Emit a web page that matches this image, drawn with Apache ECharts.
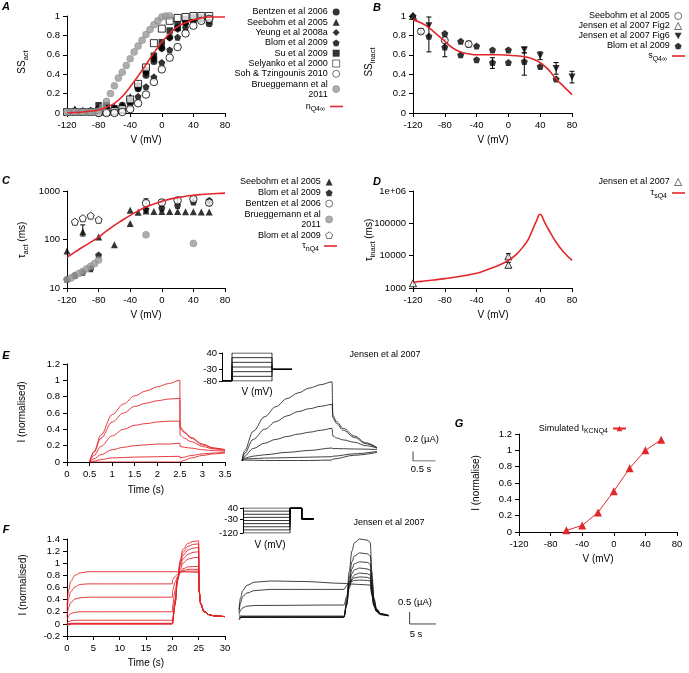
<!DOCTYPE html>
<html><head><meta charset="utf-8">
<script src="https://cdn.jsdelivr.net/npm/echarts@6/dist/echarts.min.js"></script>
<style>html,body{margin:0;padding:0;background:#fff}#c{width:689px;height:673px}</style>
</head><body><div id="c"></div>
<script>
const FONT = '"Liberation Sans", Arial, Helvetica, sans-serif';
const RED = '#e3262b';
const GRAY = '#9a9a9a';
const PENT = 'path://M0,-10 L9.5,-3.1 L5.9,8.1 L-5.9,8.1 L-9.5,-3.1 Z';
const DOWNTRI = 'path://M-10,-9 L10,-9 L0,9 Z';

// ---------- Panel A : steady-state activation ----------
const A_bentzen = [[-90,0.02],[-80,0.04],[-70,0.05],[-60,0.04],[-50,0.08],[-40,0.14],[-30,0.25],[-20,0.39],[-10,0.53],[0,0.67],[10,0.78],[20,0.88],[30,0.93],[40,0.96],[50,0.97],[60,0.92]];
const A_seebohm = [[-110,0.04],[-100,0.03],[-90,0.03],[-80,0.04],[-70,0.05],[-60,0.06],[-50,0.08],[-40,0.17],[-30,0.3],[-20,0.45],[-10,0.6],[0,0.7],[10,0.8],[20,0.88],[30,0.94],[40,0.97],[50,0.98],[60,0.98]];
const A_yeung = [[-120,0.02],[-110,0.03],[-100,0.02],[-90,0.02],[-80,0.03],[-70,0.04],[-60,0.05],[-50,0.07],[-40,0.13],[-30,0.25],[-20,0.41],[-10,0.55],[0,0.66],[10,0.77],[20,0.86],[30,0.92],[40,0.97],[50,0.98],[60,0.95]];
const A_blom = [[-80,0.0],[-70,0.01],[-60,0.01],[-50,0.03],[-40,0.09],[-30,0.17],[-20,0.27],[-10,0.37],[0,0.52],[10,0.65],[20,0.78],[30,0.88],[40,0.96],[50,0.97],[60,0.96]];
const A_su = [[-80,0.08],[-70,0.08],[-60,0.05],[-50,0.05],[-40,0.12],[-30,0.28],[-20,0.44],[-10,0.59],[0,0.73],[10,0.85],[20,0.92],[30,0.97],[40,0.99],[50,0.99],[60,0.98]];
const A_selyanko = [[-120,0.01],[-110,0.01],[-100,0.01],[-90,0.01],[-80,0.01],[-70,0.01],[-60,0.02],[-50,0.04],[-40,0.14],[-30,0.3],[-20,0.47],[-10,0.72],[0,0.87],[10,0.95],[20,0.98],[30,0.99],[40,1.0],[50,1.0],[60,1.0]];
const A_soh = [[-80,0.0],[-70,0.0],[-60,0.0],[-50,0.01],[-40,0.04],[-30,0.1],[-20,0.19],[-10,0.32],[0,0.45],[10,0.57],[20,0.68],[30,0.82],[40,0.9],[50,0.95],[60,0.97]];
const A_brueg = [[-120,0.01],[-115,0.01],[-110,0.01],[-105,0.01],[-100,0.01],[-95,0.01],[-90,0.01],[-85,0.01],[-80,0.02],[-75,0.06],[-70,0.12],[-65,0.2],[-60,0.28],[-55,0.36],[-50,0.42],[-45,0.49],[-40,0.56],[-35,0.63],[-30,0.69],[-25,0.75],[-20,0.81],[-15,0.86],[-10,0.91],[-5,0.95],[0,0.99],[5,1.0],[10,1.0]];
const A_nQ4 = [[-120,0.0],[-110,0.005],[-100,0.01],[-90,0.02],[-80,0.03],[-70,0.06],[-60,0.1],[-50,0.17],[-40,0.27],[-30,0.38],[-20,0.5],[-10,0.62],[0,0.73],[10,0.82],[20,0.89],[30,0.93],[40,0.96],[50,0.98],[60,0.99],[70,0.99],[80,0.99]];

// ---------- Panel B : steady-state inactivation ----------
const B_seebohm = [[-110,0.84],[-80,0.75],[-50,0.71]];
const B_jensen2 = [[-120,1.0]];
const B_jensen6 = [[-100,0.9],[20,0.65],[40,0.59],[60,0.46],[80,0.37]];
const B_blom = [[-120,1.0],[-100,0.79],[-80,0.82],[-80,0.68],[-60,0.74],[-60,0.6],[-40,0.69],[-40,0.55],[-20,0.65],[-20,0.52],[0,0.65],[0,0.52],[20,0.53],[40,0.48],[60,0.35]];
const B_err = [[-100,0.63,0.99],[-80,0.58,0.76],[-110,0.82,0.87],[-50,0.68,0.74],[-20,0.46,0.57],[20,0.39,0.62],[20,0.62,0.68],[40,0.55,0.63],[60,0.4,0.52],[80,0.31,0.43]];
const B_sQ4 = [[-120,0.96],[-110,0.93],[-100,0.88],[-90,0.81],[-80,0.74],[-70,0.67],[-60,0.63],[-50,0.61],[-40,0.6],[-30,0.6],[-20,0.6],[-10,0.6],[0,0.595],[10,0.59],[20,0.58],[30,0.56],[40,0.52],[50,0.45],[60,0.35],[70,0.27],[80,0.19]];

// ---------- Panel C : activation time constant ----------
const C_seebohm = [[-120,58],[-100,145],[-80,112],[-60,78],[-40,215],[-40,400],[-30,365],[-20,385],[-10,380],[0,380],[10,378],[20,378],[30,375],[40,372],[50,370],[60,368]];
const C_blom = [[-120,15],[-110,18],[-100,21],[-90,25],[-80,48],[-20,420],[0,440],[20,505],[40,590],[60,640]];
const C_bentzen = [[-20,560],[0,580],[20,640],[40,680],[60,575]];
const C_brueg = [[-120,15],[-115,16],[-110,18],[-105,20],[-100,22],[-95,25],[-90,28],[-85,32],[-80,38],[-20,125],[40,83]];
const C_blom2 = [[-110,232],[-100,275],[-90,310],[-80,255]];
const C_err = [[-100,118,200],[-20,430,690],[0,480,660],[20,560,720],[40,600,760],[60,500,640]];
const C_tauN = [[-120,43],[-110,55],[-100,70],[-90,88],[-80,112],[-70,150],[-60,196],[-50,250],[-40,315],[-30,390],[-20,468],[-10,540],[0,610],[10,680],[20,730],[30,780],[40,815],[50,845],[60,870],[70,890],[80,905]];

// ---------- Panel D : inactivation time constant ----------
const D_jensen = [[-120,1400],[0,9500],[0,5200]];
const D_err = [[0,8200,11500],[0,4400,6200]];
const D_tauS = [[-120,1500],[-110,1600],[-100,1700],[-90,1820],[-80,1950],[-70,2100],[-60,2300],[-50,2550],[-40,2850],[-30,3400],[-20,4200],[-10,5300],[0,7200],[10,11000],[20,21000],[25,32000],[30,60000],[35,115000],[40,190000],[45,115000],[50,68000],[60,26000],[70,12500],[80,7200]];

// ---------- Panel E : activation protocol traces ----------
const E_steps = [40,20,0,-20,-40,-60,-80];
const E_red = [
 [[0.5,0],[0.6,0.13],[0.75,0.33],[1.0,0.58],[1.25,0.71],[1.5,0.81],[1.75,0.87],[2.0,0.92],[2.25,0.96],[2.5,1.0],[2.505,0.43],[2.6,0.37],[2.75,0.3],[3.0,0.22],[3.25,0.17],[3.5,0.15]],
 [[0.5,0],[0.6,0.12],[0.75,0.29],[1.0,0.49],[1.25,0.6],[1.5,0.68],[1.75,0.72],[2.0,0.75],[2.25,0.77],[2.5,0.78],[2.505,0.41],[2.6,0.36],[2.75,0.29],[3.0,0.21],[3.25,0.17],[3.5,0.15]],
 [[0.5,0],[0.6,0.08],[0.75,0.19],[1.0,0.32],[1.25,0.4],[1.5,0.45],[1.75,0.47],[2.0,0.49],[2.25,0.5],[2.5,0.5],[2.505,0.33],[2.6,0.29],[2.75,0.25],[3.0,0.19],[3.25,0.16],[3.5,0.14]],
 [[0.5,0],[0.6,0.04],[0.75,0.09],[1.0,0.15],[1.25,0.18],[1.5,0.2],[1.75,0.21],[2.0,0.22],[2.25,0.22],[2.5,0.23],[2.505,0.19],[2.6,0.18],[2.75,0.17],[3.0,0.15],[3.25,0.14],[3.5,0.13]],
 [[0.5,0],[0.6,0.01],[0.75,0.03],[1.0,0.05],[1.5,0.06],[2.0,0.065],[2.5,0.07],[2.505,0.05],[2.6,0.06],[2.75,0.08],[3.0,0.1],[3.25,0.11],[3.5,0.12]],
 [[0.5,0],[1.0,0],[1.5,0],[2.0,0],[2.5,0],[2.6,0.02],[2.75,0.05],[3.0,0.08],[3.25,0.1],[3.5,0.11]]
];
const E_black = [
 [[0,0],[0.05,0.2],[0.25,0.62],[0.5,0.92],[0.75,1.13],[1.0,1.3],[1.25,1.42],[1.5,1.52],[1.75,1.59],[2.0,1.65],[2.02,0.95],[2.1,0.82],[2.25,0.68],[2.5,0.52],[2.75,0.38],[3.0,0.28]],
 [[0,0],[0.05,0.15],[0.25,0.45],[0.5,0.66],[0.75,0.82],[1.0,0.94],[1.25,1.03],[1.5,1.09],[1.75,1.14],[2.0,1.18],[2.02,0.9],[2.1,0.78],[2.25,0.64],[2.5,0.49],[2.75,0.36],[3.0,0.27]],
 [[0,0],[0.05,0.1],[0.25,0.26],[0.5,0.37],[0.75,0.45],[1.0,0.51],[1.25,0.56],[1.5,0.6],[1.75,0.64],[2.0,0.68],[2.02,0.52],[2.1,0.48],[2.25,0.44],[2.5,0.39],[2.75,0.32],[3.0,0.27]],
 [[0,0],[0.05,0.06],[0.25,0.1],[0.5,0.13],[1.0,0.18],[1.5,0.22],[2.0,0.27],[2.02,0.26],[2.5,0.25],[3.0,0.24]],
 [[0,0],[0.05,0.04],[0.25,0.05],[0.5,0.06],[1.0,0.07],[1.5,0.08],[2.0,0.09],[2.02,0.1],[2.5,0.15],[3.0,0.2]],
 [[0,0],[0.05,0.02],[0.5,0.01],[1.0,0.01],[1.5,0.01],[2.0,0.02],[2.02,0.04],[2.5,0.12],[3.0,0.18]]
];

// ---------- Panel F : inactivation protocol traces ----------
const F_steps = [40,20,0,-20,-40,-60,-80,-100,-120];
const F_red = [
 [[0,0.3],[0.3,0.55],[0.7,0.7],[1.5,0.8],[2.5,0.84],[4,0.86],[10,0.86],[20,0.86],[22,0.86],[25,0.85],[25.05,0.56],[25.4,0.33],[26,0.21],[27,0.15],[28,0.13],[30,0.12]],
 [[0,0.22],[0.3,0.42],[0.7,0.53],[1.5,0.61],[2.5,0.65],[4,0.66],[20,0.66],[20.05,0.73],[20.5,0.78],[21,0.82],[22,0.86],[23,0.87],[25,0.87],[25.05,0.55],[25.4,0.32],[26,0.2],[27,0.15],[28,0.13],[30,0.12]],
 [[0,0.12],[0.3,0.27],[0.7,0.35],[1.5,0.41],[2.5,0.43],[4,0.44],[20,0.44],[20.05,0.55],[20.5,0.68],[21,0.78],[21.5,0.85],[22,0.88],[23,0.9],[25,0.9],[25.05,0.55],[25.4,0.32],[26,0.2],[27,0.15],[28,0.13],[30,0.12]],
 [[0,0.05],[0.3,0.13],[0.7,0.17],[1.5,0.19],[2.5,0.2],[20,0.2],[20.05,0.3],[20.5,0.55],[21,0.74],[21.5,0.85],[22,0.91],[23,0.94],[25,0.95],[25.05,0.55],[25.4,0.32],[26,0.2],[27,0.15],[28,0.13],[30,0.12]],
 [[0,0.0],[0.3,0.04],[1,0.055],[2,0.06],[20,0.06],[20.05,0.1],[20.5,0.4],[21,0.72],[21.5,0.9],[22,1.0],[23,1.07],[24,1.09],[25,1.1],[25.05,0.56],[25.4,0.33],[26,0.2],[27,0.15],[28,0.13],[30,0.12]],
 [[0,0],[1,0.01],[20,0.01],[20.5,0.35],[21,0.72],[21.5,0.95],[22,1.07],[23,1.15],[24,1.18],[25,1.19],[25.05,0.56],[25.4,0.33],[26,0.2],[27,0.15],[28,0.13],[30,0.12]],
 [[0,-0.01],[1,0],[20,0],[20.5,0.33],[21,0.73],[21.5,0.99],[22,1.13],[23,1.22],[24,1.25],[25,1.26],[25.05,0.57],[25.4,0.33],[26,0.21],[27,0.15],[28,0.13],[30,0.12]],
 [[0,-0.02],[1,0],[20,0],[20.5,0.32],[21,0.73],[21.5,1.02],[22,1.18],[23,1.28],[24,1.31],[25,1.32],[25.05,0.57],[25.4,0.34],[26,0.21],[27,0.15],[28,0.13],[30,0.12]],
 [[0,-0.03],[1,0],[20,0],[20.5,0.3],[21,0.74],[21.5,1.05],[22,1.23],[23,1.33],[24,1.36],[25,1.37],[25.05,0.58],[25.4,0.34],[26,0.21],[27,0.15],[28,0.13],[30,0.12]]
];
const F_black = [
 [[0,0.3],[0.3,0.8],[0.7,1.1],[1.5,1.32],[3,1.45],[6,1.5],[12,1.48],[20,1.4],[21,1.38],[25,1.33],[25.3,0.9],[25.7,0.45],[26.2,0.22],[27,0.1],[28.5,0.05]],
 [[0,0.2],[0.3,0.6],[0.7,0.85],[1.5,1.0],[3,1.1],[6,1.15],[20,1.15],[20.5,1.3],[21,1.45],[22,1.52],[23,1.54],[24.5,1.52],[25,1.5],[25.3,0.98],[25.7,0.48],[26.2,0.23],[27,0.1],[28.5,0.05]],
 [[0,0.1],[0.3,0.28],[0.7,0.38],[1.5,0.45],[3,0.48],[20,0.5],[20.5,0.85],[21,1.3],[21.5,1.55],[22,1.63],[23,1.67],[24.5,1.65],[25,1.6],[25.3,1.05],[25.7,0.5],[26.2,0.24],[27,0.1],[28.5,0.05]],
 [[0,0.05],[1,0.04],[20,0.04],[20.5,0.5],[21,1.2],[21.5,1.6],[22,1.76],[23,1.83],[24.5,1.8],[25,1.75],[25.3,1.15],[25.7,0.55],[26.2,0.26],[27,0.11],[28.5,0.05]],
 [[0,0],[20,0],[20.5,0.5],[21,1.3],[21.5,1.8],[22,1.97],[23,2.04],[24.5,2.0],[25,1.95],[25.3,1.25],[25.7,0.6],[26.2,0.28],[27,0.12],[28.5,0.06]],
 [[0,-0.05],[0.5,0],[20,0],[20.5,0.55],[21,1.45],[21.5,2.0],[22,2.22],[23,2.3],[24.5,2.27],[25,2.2],[25.3,1.4],[25.7,0.65],[26.2,0.3],[27,0.12],[28.5,0.06]],
 [[0,-0.1],[0.5,0],[20,0],[20.5,0.6],[21,1.6],[21.5,2.3],[22,2.55],[23,2.67],[24.5,2.63],[25,2.55],[25.3,1.6],[25.7,0.72],[26.2,0.32],[27,0.13],[28.5,0.06]],
 [[0,-0.1],[0.5,-0.02],[20,-0.02],[20.5,0.7],[21,1.9],[21.5,2.75],[22,3.1],[23,3.25],[24.5,3.2],[25,3.1],[25.3,1.9],[25.7,0.8],[26.2,0.35],[27,0.14],[28.5,0.07]]
];

// ---------- Panel G : simulated I-V ----------
const G_sim = [[-60,0.02],[-40,0.08],[-20,0.24],[0,0.5],[20,0.78],[40,1.0],[60,1.13]];

// scale bars (time, current)
const E_scale = [[3.8,0.2],[3.8,0],[4.3,0]];
const F_scale = [[32.5,0.21],[32.5,-0.29],[37.5,-0.29]];

// ================= build option =================
const grids = [
 {left:67, top:16, width:158, height:97},   // 0 A
 {left:413, top:16, width:159, height:97},  // 1 B
 {left:67, top:191, width:158, height:97},  // 2 C
 {left:413, top:191, width:159, height:97}, // 3 D
 {left:67, top:364, width:158, height:98},  // 4 E red
 {left:222, top:353, width:70, height:28},  // 5 E inset
 {left:242, top:365, width:202.5, height:96}, // 6 E black
 {left:67, top:539, width:158, height:97},  // 7 F red
 {left:243, top:508, width:70.5, height:25},// 8 F inset
 {left:239, top:533, width:210, height:96}, // 9 F black
 {left:519, top:434, width:158, height:98}  // 10 G
].map(g => Object.assign({outerBoundsMode:'none', containLabel:false}, g));

function axis(gi, o) {
  return Object.assign({
    gridIndex: gi, type: 'value',
    axisLine: {show: true, onZero: false, lineStyle: {color: '#000', width: 1}},
    axisTick: {show: true, length: 4, lineStyle: {color: '#000', width: 1}},
    axisLabel: {color: '#000', fontSize: 9.5, fontFamily: FONT, margin: 7},
    splitLine: {show: false}
  }, o);
}
function hidden(gi, o) { return Object.assign({gridIndex: gi, type: 'value', show: false, splitLine:{show:false}}, o); }

const xAxes = [
 axis(0, {min:-120, max:80, interval:40}),
 axis(1, {min:-120, max:80, interval:40}),
 axis(2, {min:-120, max:80, interval:40}),
 axis(3, {min:-120, max:80, interval:40}),
 axis(4, {min:0, max:3.5, interval:0.5}),
 hidden(5, {min:0, max:3.5}),
 hidden(6, {min:0, max:4.5}),
 axis(7, {min:0, max:30, interval:5}),
 hidden(8, {min:0, max:30}),
 hidden(9, {min:0, max:40}),
 axis(10, {min:-120, max:80, interval:40})
];
const yAxes = [
 axis(0, {min:0, max:1, interval:0.2}),
 axis(1, {min:0, max:1, interval:0.2}),
 axis(2, {type:'log', logBase:10, min:10, max:1000, axisLabel:{color:'#000', fontSize:9.5, fontFamily:FONT, margin:7, formatter: v => String(Math.round(v))}}),
 axis(3, {type:'log', logBase:10, min:1000, max:1000000, axisLabel:{color:'#000', fontSize:9.5, fontFamily:FONT, margin:7, formatter: v => v >= 1000000 ? '1e+06' : String(Math.round(v))}}),
 axis(4, {min:0, max:1.2, interval:0.2}),
 axis(5, {min:-80, max:40, axisTick:{show:true, length:3, customValues:[40,-30,-80], lineStyle:{color:'#000'}}, axisLabel:{color:'#000', fontSize:9.5, fontFamily:FONT, margin:5, customValues:[40,-30,-80]}}),
 hidden(6, {min:0, max:2}),
 axis(7, {min:-0.2, max:1.4, interval:0.2}),
 axis(8, {min:-120, max:40, axisTick:{show:true, length:3, customValues:[40,-30,-120], lineStyle:{color:'#000'}}, axisLabel:{color:'#000', fontSize:9.5, fontFamily:FONT, margin:5, customValues:[40,-30,-120]}}),
 hidden(9, {min:-0.5, max:3.5}),
 axis(10, {min:0, max:1.2, interval:0.2})
];

function sc(name, gi, data, symbol, fill, extra) {
  return Object.assign({
    name, type: 'scatter', xAxisIndex: gi, yAxisIndex: gi, data, symbol, symbolSize: 7,
    itemStyle: fill === 'open' ? {color: '#fff', borderColor: '#000', borderWidth: 1}
             : fill === 'gray' ? {color: GRAY, borderColor: '#808080', borderWidth: 0.5}
             : {color: '#000'},
    silent: true
  }, extra || {});
}
function curve(name, gi, data) {
  return {name, type:'line', xAxisIndex:gi, yAxisIndex:gi, data, symbol:'none', smooth:true,
    lineStyle:{color:RED, width:1.6}, itemStyle:{color:RED}, silent:true, z:3};
}
function errRender(params, api) {
  const x = api.value(0), lo = api.value(1), hi = api.value(2);
  const p1 = api.coord([x, lo]), p2 = api.coord([x, hi]);
  const w = 2.5, st = {stroke: '#000', lineWidth: 1};
  return {type: 'group', children: [
    {type: 'line', shape: {x1: p1[0], y1: p1[1], x2: p2[0], y2: p2[1]}, style: st},
    {type: 'line', shape: {x1: p1[0]-w, y1: p1[1], x2: p1[0]+w, y2: p1[1]}, style: st},
    {type: 'line', shape: {x1: p2[0]-w, y1: p2[1], x2: p2[0]+w, y2: p2[1]}, style: st}
  ]};
}
function errs(gi, data) {
  return {type:'custom', xAxisIndex:gi, yAxisIndex:gi, data, renderItem: errRender, encode:{x:0, y:[1,2]}, silent:true, z:1};
}
function trace(gi, data, color, w, smooth) {
  return {type:'line', xAxisIndex:gi, yAxisIndex:gi, data, symbol:'none', smooth: smooth, smoothMonotone:'x',
    lineStyle:{color, width:w}, silent:true};
}

const series = [
 // A
 sc('A_bentzen', 0, A_bentzen, 'circle', 'black'),
 sc('A_seebohm', 0, A_seebohm, 'triangle', 'black'),
 sc('A_yeung', 0, A_yeung, 'diamond', 'black'),
 sc('A_blom', 0, A_blom, PENT, 'black'),
 sc('A_su', 0, A_su, 'rect', 'black', {symbolSize:6.5}),
 sc('A_selyanko', 0, A_selyanko, 'rect', 'open', {symbolSize:7}),
 sc('A_soh', 0, A_soh, 'circle', 'open', {symbolSize:7.5}),
 sc('A_brueg', 0, A_brueg, 'circle', 'gray'),
 curve('A_n', 0, A_nQ4),
 // B
 errs(1, B_err),
 sc('B_seebohm', 1, B_seebohm, 'circle', 'open'),
 sc('B_jensen2', 1, B_jensen2, 'triangle', 'open'),
 sc('B_jensen6', 1, B_jensen6, DOWNTRI, 'black'),
 sc('B_blom', 1, B_blom, PENT, 'black'),
 curve('B_s', 1, B_sQ4),
 // C
 errs(2, C_err),
 sc('C_seebohm', 2, C_seebohm, 'triangle', 'black'),
 sc('C_blom', 2, C_blom, PENT, 'black'),
 sc('C_bentzen', 2, C_bentzen, 'circle', 'open', {symbolSize:7.5}),
 sc('C_brueg', 2, C_brueg, 'circle', 'gray'),
 sc('C_blom2', 2, C_blom2, PENT, 'open'),
 curve('C_tau', 2, C_tauN),
 // D
 errs(3, D_err),
 sc('D_jensen', 3, D_jensen, 'triangle', 'open'),
 curve('D_tau', 3, D_tauS),
 // G
 {name:'G_sim', type:'line', xAxisIndex:10, yAxisIndex:10, data:G_sim, symbol:'triangle', symbolSize:8,
  lineStyle:{color:RED, width:1}, itemStyle:{color:RED}, silent:true}
];
E_red.forEach(d => series.push(trace(4, d, RED, 0.9, 0.35)));
E_steps.forEach(v => series.push(trace(5, [[0,-80],[0.5,-80],[0.5,v],[2.5,v],[2.5,-30],[3.5,-30]], '#000', 0.8, false)));
E_black.forEach(d => series.push(trace(6, d, '#111', 0.8, 0.35)));
series.push(trace(6, E_scale, '#444', 1, false));
F_red.forEach(d => series.push(trace(7, d, RED, 0.9, 0.35)));
F_steps.forEach(v => series.push(trace(8, [[0,v],[20,v],[20,40],[25,40],[25,-30],[30,-30]], '#000', 0.8, false)));
F_black.forEach(d => series.push(trace(9, d, '#111', 0.8, 0.35)));
series.push(trace(9, F_scale, '#444', 1, false));

const LBL = {
 A_bentzen:'Bentzen et al 2006', A_seebohm:'Seebohm et al 2005', A_yeung:'Yeung et al 2008a', A_blom:'Blom et al 2009',
 A_su:'Su et al 2009', A_selyanko:'Selyanko et al 2000', A_soh:'Soh & Tzingounis 2010', A_brueg:'Brueggemann et al\n2011',
 A_n:'{m|n}{s|Q4∞}',
 B_seebohm:'Seebohm et al 2005', B_jensen2:'Jensen et al 2007 Fig2', B_jensen6:'Jensen et al 2007 Fig6', B_blom:'Blom et al 2009', B_s:'{m|s}{s|Q4∞}',
 C_seebohm:'Seebohm et al 2005', C_blom:'Blom et al 2009', C_bentzen:'Bentzen et al 2006', C_brueg:'Brueggemann et al\n2011', C_blom2:'Blom et al 2009', C_tau:'{m|τ}{s|nQ4}',
 D_jensen:'Jensen et al 2007', D_tau:'{m|τ}{s|sQ4}',
 G_sim:'{m|Simulated I}{s|KCNQ4}'
};
const RICH = {
  m: {fontSize: 9, fontFamily: FONT, color: '#000', lineHeight: 10},
  s: {fontSize: 7, fontFamily: FONT, color: '#000', lineHeight: 13, verticalAlign: 'bottom'}
};
function legendSym(data, iconRight, top, gap) {
  return {data, orient:'vertical', right: 689 - iconRight, top, align:'right', itemWidth:7, itemHeight:7, itemGap:gap || 0,
    selectedMode:false, padding:0, itemStyle:{borderWidth:0.7},
    textStyle:{fontSize:9, fontFamily:FONT, color:'#000', lineHeight:10, rich:RICH},
    formatter: n => LBL[n]};
}
function legendLine(data, iconRight, top) {
  return {data, orient:'vertical', right: 689 - iconRight, top, align:'right', itemWidth:13, itemHeight:1.6, itemGap:0,
    icon:'rect', selectedMode:false, padding:0,
    textStyle:{fontSize:9, fontFamily:FONT, color:'#000', lineHeight:10, rich:RICH},
    formatter: n => LBL[n]};
}
const legends = [
 legendSym(['A_bentzen','A_seebohm','A_yeung','A_blom','A_su','A_selyanko','A_soh','A_brueg'], 340, 7, 0.3),
 legendLine(['A_n'], 343, 100),
 legendSym(['B_seebohm','B_jensen2','B_jensen6','B_blom'], 682, 11, 0),
 legendLine(['B_s'], 685, 49.5),
 legendSym(['C_seebohm','C_blom','C_bentzen','C_brueg','C_blom2'], 333, 177, 0.8),
 legendLine(['C_tau'], 337, 239.5),
 legendSym(['D_jensen'], 682, 177),
 legendLine(['D_tau'], 685, 186.5),
 {data:['G_sim'], orient:'vertical', right:62, top:422, align:'right', itemWidth:13, itemHeight:7, selectedMode:false, padding:0,
  textStyle:{fontSize:9, fontFamily:FONT, color:'#000', lineHeight:10, rich:RICH}, formatter: n => LBL[n]}
];

// ---------- texts ----------
const TR = {
  m: {fontSize: 10, fontFamily: FONT, fill: '#000', lineHeight: 12},
  s: {fontSize: 7.5, fontFamily: FONT, fill: '#000', lineHeight: 15, verticalAlign: 'bottom'}
};
function T(x, y, text, o) {
  return {type:'text', x, y, silent:true, style:Object.assign({text, fill:'#000', fontSize:10, fontFamily:FONT, align:'center', verticalAlign:'middle'}, o || {})};
}
function TV(x, y, text) {
  return {type:'text', x, y, rotation: Math.PI/2, silent:true, style:{text, rich:TR, fill:'#000', fontSize:10, fontFamily:FONT, align:'center', verticalAlign:'middle'}};
}
const BI = {fontWeight:'bold', fontStyle:'italic', fontSize:11};
const graphics = [
 T(6,7,'A',BI), T(377,8,'B',BI), T(6,181,'C',BI), T(377,182,'D',BI), T(6,356,'E',BI), T(6,530,'F',BI), T(459,424,'G',BI),
 TV(22,62,'{m|SS}{s|act}'), TV(369,62,'{m|SS}{s|inact}'),
 TV(22,240,'{m|τ}{s|act}{m| (ms)}'), TV(369,240,'{m|τ}{s|inact}{m| (ms)}'),
 TV(22,412,'{m|I (normalised)}'), TV(23,585,'{m|I (normalised)}'), TV(476,483,'{m|I (normalise)}'),
 T(146,140,'V (mV)'), T(493,140,'V (mV)'), T(146,315,'V (mV)'), T(493,315,'V (mV)'),
 T(146,490,'Time (s)'), T(146,663,'Time (s)'), T(598,559,'V (mV)'),
 T(257,392,'V (mV)'), T(270,545,'V (mV)'),
 T(385,355,'Jensen et al 2007', {fontSize:9}), T(389,523,'Jensen et al 2007', {fontSize:9}),
 T(422,439,'0.2 (µA)', {fontSize:9.5}), T(421,469,'0.5 s', {fontSize:9.5}),
 T(415,602,'0.5 (µA)', {fontSize:9.5}), T(416,634,'5 s', {fontSize:9.5})
];

const chart = echarts.init(document.getElementById('c'), null, {renderer:'canvas'});
chart.setOption({
  animation: false,
  backgroundColor: '#fff',
  textStyle: {fontFamily: FONT},
  grid: grids, xAxis: xAxes, yAxis: yAxes,
  legend: legends,
  series,
  graphic: graphics
});
</script></body></html>
